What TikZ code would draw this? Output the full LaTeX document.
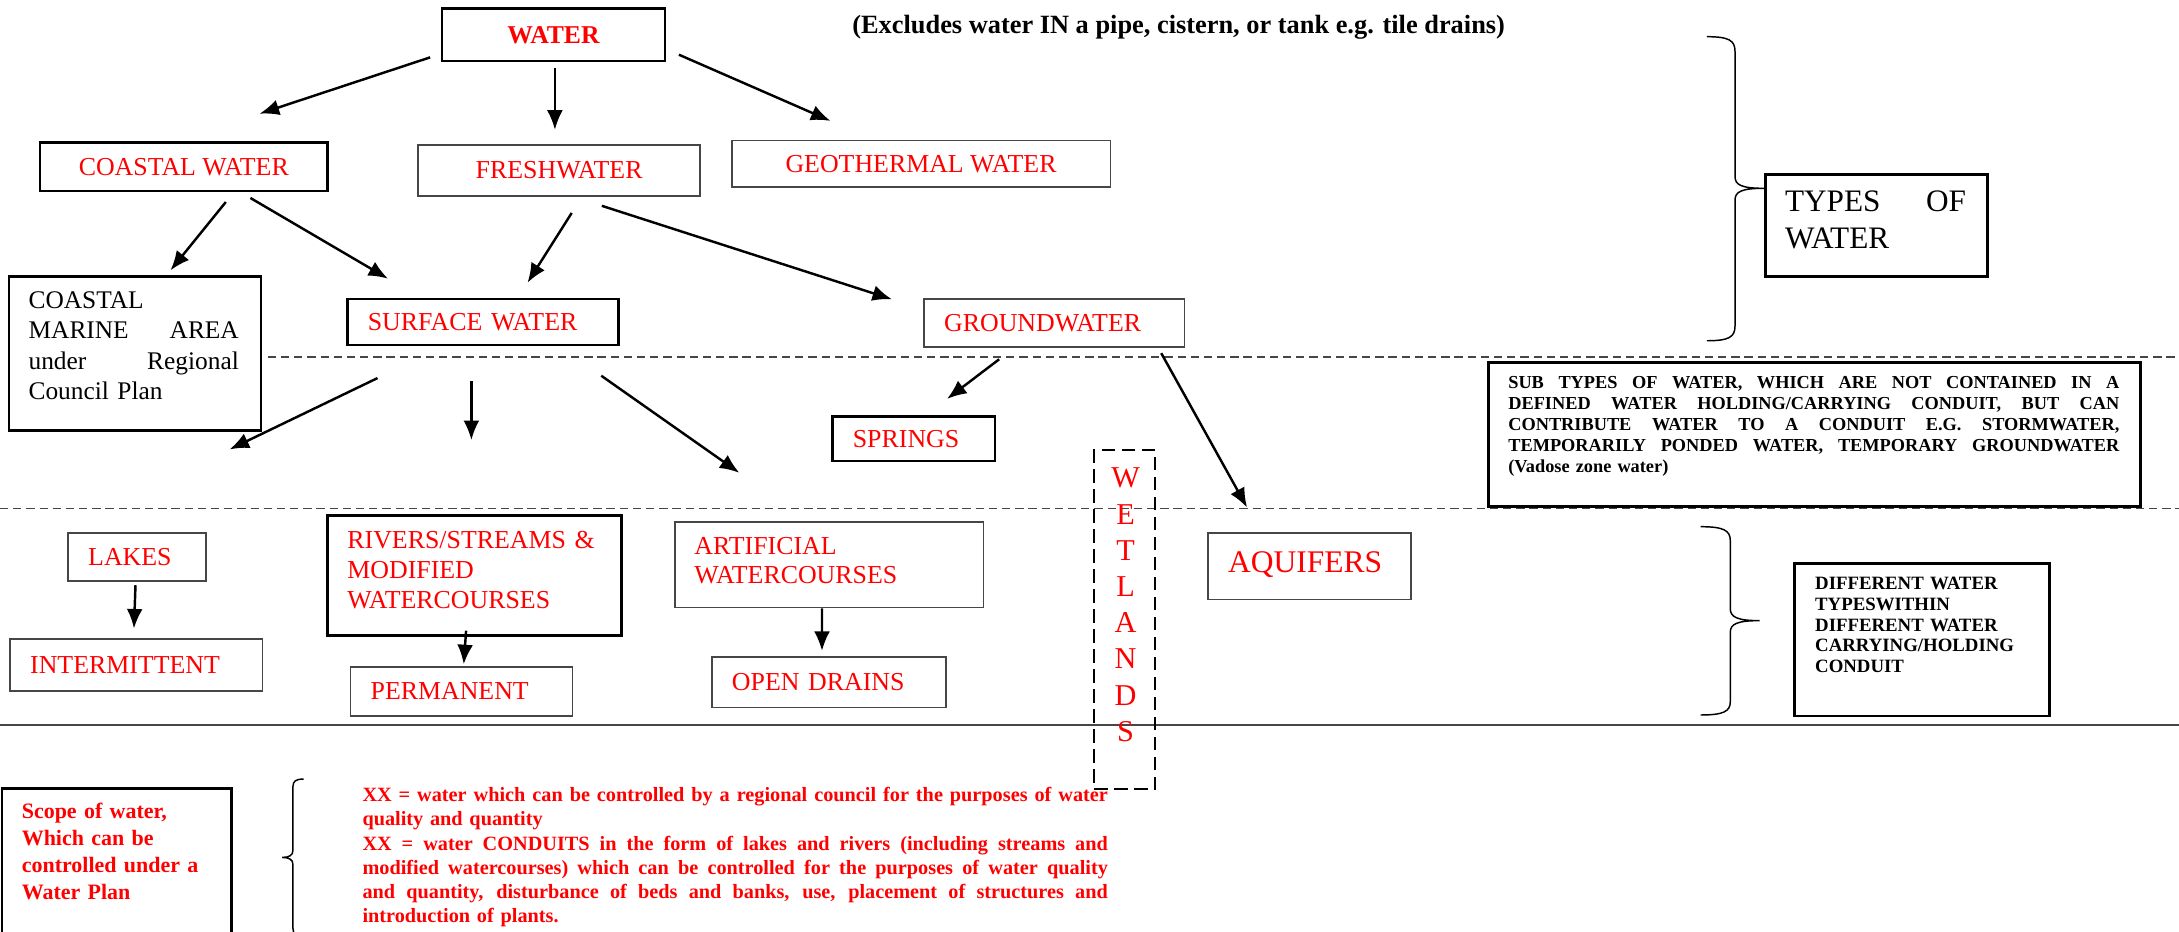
\documentclass[tikz,border=0pt]{standalone}
\usepackage{fontspec}
\setmainfont{Liberation Serif}
\usepackage{xcolor}
\usepackage{tikz}
\usetikzlibrary{arrows.meta}
\definecolor{wred}{RGB}{255,0,0}
\definecolor{linegray}{RGB}{70,70,70}
\newdimen\pxu
\pxu=0.02cm
\newcommand{\jline}[1]{\makebox[\linewidth][s]{\spaceskip=0pt\xspaceskip=0pt\relax #1}}

\begin{document}
\begin{tikzpicture}[x=0.02cm, y=-0.02cm,
	boxthick/.style={draw=black, line width=1.1pt, inner sep=0pt},
	boxthin/.style={draw=linegray, line width=0.7pt, inner sep=0pt},
	wlabel/.style={text=wred, font=\fontsize{10.6}{12.2}\selectfont},
	padleft/.style={align=left, inner xsep=14.5\pxu},
	note/.style={anchor=base west, inner sep=0pt, align=left},
	flow/.style={draw=black, line width=1pt, -{Latex[length=8pt,width=6.5pt]}},
	zoneline/.style={draw=linegray, line width=0.7pt, dash pattern=on 3.4pt off 2pt},
	bracepath/.style={draw=black, line width=0.6pt}]
	\path[use as bounding box] (0,0) rectangle (1568,670);
	\clip (0,0) rectangle (1568,670);
	\draw[zoneline] (192.7,256.7) -- (1568,256.7);
	\draw[zoneline] (0,366) -- (1568,366);
	\draw[draw=linegray, line width=0.8pt] (0,521.7) -- (1568,521.7);
	\node[boxthick, wlabel, font=\bfseries\fontsize{10.5}{12}\selectfont, minimum width=160.6\pxu, minimum height=38\pxu] (water) at (398.3,25) {WATER};
	\node[note, font=\bfseries\fontsize{10.8}{13}\selectfont] (excl) at (613,24) {(Excludes water IN a pipe, cistern, or tank e.g. tile drains)};
	\node[boxthick, wlabel, minimum width=206.9\pxu, minimum height=34.8\pxu] (coastal) at (132.25,120.1) {COASTAL WATER};
	\node[boxthin, wlabel, minimum width=202.9\pxu, minimum height=37\pxu] (fresh) at (402.35,122.6) {FRESHWATER};
	\node[boxthin, wlabel, minimum width=272.5\pxu, minimum height=33.8\pxu] (geo) at (662.75,117.9) {GEOTHERMAL WATER};
	\node[boxthick, minimum width=181.5\pxu, minimum height=110.9\pxu] (cma) at (97.15,254.55) {};
	\node[note, text width=151.3\pxu, font=\fontsize{10.4}{12.35}\selectfont] (cmatext) at ([shift={(14.8,24)}]cma.north west) {COASTAL\\ \jline{MARINE AREA}\\ \jline{under Regional}\\ Council Plan};
	\node[boxthick, wlabel, padleft, text width=165.7\pxu, minimum width=194.7\pxu, minimum height=33.1\pxu] (surface) at (347.55,231.75) {SURFACE WATER};
	\node[boxthin, wlabel, padleft, text width=158.4\pxu, minimum width=187.4\pxu, minimum height=34.3\pxu] (ground) at (758.6,232.35) {GROUNDWATER};
	\node[boxthick, wlabel, padleft, text width=87.9\pxu, minimum width=116.9\pxu, minimum height=31.9\pxu] (springs) at (657.65,315.85) {SPRINGS};
	\node[boxthick, minimum width=159.9\pxu, minimum height=73.6\pxu] (types) at (1350.25,162.3) {};
	\node[note, text width=130.2\pxu, font=\fontsize{12.8}{15.1}\selectfont] (typestext) at ([shift={(14.8,28)}]types.north west) {\jline{TYPES OF}\\ WATER};
	\node[boxthick, minimum width=469.1\pxu, minimum height=103.7\pxu] (subtypes) at (1305.75,312.85) {};
	\node[note, text width=439.7\pxu, font=\bfseries\fontsize{7.5}{8.54}\selectfont] (subtext) at ([shift={(14.8,19.7)}]subtypes.north west) {\jline{SUB TYPES OF WATER, WHICH ARE NOT CONTAINED IN A}\\ \jline{DEFINED WATER HOLDING/CARRYING CONDUIT, BUT CAN}\\ \jline{CONTRIBUTE WATER TO A CONDUIT E.G. STORMWATER,}\\ \jline{TEMPORARILY PONDED WATER, TEMPORARY GROUNDWATER}\\ (Vadose zone water)};
	\node[draw=black, line width=0.8pt, dash pattern=on 5.5pt off 2.7pt, inner sep=0pt, minimum width=43.9\pxu, minimum height=244.2\pxu] (wetlands) at (809.35,445.9) {};
	\node[anchor=base, inner sep=0pt, text width=30\pxu, align=center, text=wred, font=\fontsize{12.4}{14.82}\selectfont] (wetltext) at ([shift={(0.6,28)}]wetlands.north) {W\\E\\T\\L\\A\\N\\D\\S};
	\node[boxthin, wlabel, padleft, text width=70.1\pxu, minimum width=99.1\pxu, minimum height=34.7\pxu] (lakes) at (98.55,400.75) {LAKES};
	\node[boxthin, wlabel, padleft, text width=152.7\pxu, minimum width=181.7\pxu, minimum height=37.4\pxu] (intermittent) at (98.05,478.6) {INTERMITTENT};
	\node[boxthick, minimum width=211.5\pxu, minimum height=86.4\pxu] (rivers) at (341.45,414.3) {};
	\node[note, wlabel, text width=190\pxu] (riverstext) at ([shift={(14.9,24.7)}]rivers.north west) {RIVERS/STREAMS \&\\ MODIFIED\\ WATERCOURSES};
	\node[boxthin, wlabel, padleft, text width=130.7\pxu, minimum width=159.7\pxu, minimum height=35.5\pxu] (permanent) at (332.05,497.55) {PERMANENT};
	\node[boxthin, minimum width=222\pxu, minimum height=61.7\pxu] (artificial) at (596.7,406.25) {};
	\node[note, wlabel, text width=190\pxu] (artiftext) at ([shift={(14.3,24)}]artificial.north west) {ARTIFICIAL\\ WATERCOURSES};
	\node[boxthin, wlabel, padleft, text width=139.5\pxu, minimum width=168.5\pxu, minimum height=36.5\pxu] (opendrains) at (596.45,490.85) {OPEN DRAINS};
	\node[boxthin, wlabel, padleft, font=\fontsize{12.9}{15}\selectfont, text height=5pt, text depth=0pt, text width=117\pxu, minimum width=146\pxu, minimum height=48\pxu] (aquifers) at (942.3,407.3) {AQUIFERS};
	\node[boxthick, minimum width=183.8\pxu, minimum height=109.9\pxu] (different) at (1383.1,460.35) {};
	\node[note, text width=160\pxu, font=\bfseries\fontsize{7.7}{8.54}\selectfont] (difftext) at ([shift={(15.6,19.7)}]different.north west) {DIFFERENT WATER\\ TYPESWITHIN\\ DIFFERENT WATER\\ CARRYING/HOLDING\\ CONDUIT};
	\node[boxthick, minimum width=165.3\pxu, minimum height=132.4\pxu] (scope) at (84.15,633.8) {};
	\node[note, text width=150\pxu, text=wred, font=\bfseries\fontsize{9}{11}\selectfont] (scopetext) at ([shift={(14.8,22.5)}]scope.north west) {Scope of water,\\ Which can be\\ controlled under a\\ Water Plan};
	\node[note, text width=536.4\pxu, text=wred, font=\bfseries\fontsize{8.3}{9.9}\selectfont] (control) at (260.5,576.9) {\jline{XX = water which can be controlled by a regional council for the purposes of water}\\ quality and quantity\\ \jline{XX = water CONDUITS in the form of lakes and rivers (including streams and}\\ \jline{modified watercourses) which can be controlled for the purposes of water quality}\\ \jline{and quantity, disturbance of beds and banks, use, placement of structures and}\\ introduction of plants.};
	\coordinate (toleft) at (165.2,323.4);
	\coordinate (tomid) at (339.2,316.7);
	\coordinate (toright) at (532,340.2);
	\draw[flow] ([shift={(-7.5,-3.7)}]water.south west) -- ([shift={(54.55,-19.9)}]coastal.north);
	\draw[flow] ([shift={(1,4)}]water.south) -- ([shift={(-3.05,-10.1)}]fresh.north);
	\draw[flow] ([shift={(9,-5.6)}]water.south east) -- ([shift={(71.7,-13.4)}]geo.north west);
	\draw[flow] ([shift={(30.25,6.9)}]coastal.south) -- ([shift={(25.55,-3.6)}]cma.north);
	\draw[flow] ([shift={(47.95,4)}]coastal.south) -- ([shift={(30,-13.7)}]surface.north west);
	\draw[flow] ([shift={(9.05,11.5)}]fresh.south) -- ([shift={(32.05,-10.8)}]surface.north);
	\draw[flow] ([shift={(30.75,6.4)}]fresh.south) -- ([shift={(-22.4,0.8)}]ground.north west);
	\draw[flow] ([shift={(22.4,22.8)}]surface.south west) -- (toleft);
	\draw[flow] ([shift={(-8.35,25.2)}]surface.south) -- (tomid);
	\draw[flow] ([shift={(-13.2,21.1)}]surface.south east) -- (toright);
	\draw[flow] ([shift={(-39.6,8.4)}]ground.south) -- ([shift={(23.85,-11.9)}]springs.north);
	\draw[flow] ([shift={(-17.3,4)}]ground.south east) -- ([shift={(28.7,-17.5)}]aquifers.north west);
	\draw[flow] ([shift={(-1.05,2.4)}]lakes.south) -- ([shift={(-1.65,-7)}]intermittent.north);
	\draw[flow] ([shift={(-6.05,-4.6)}]rivers.south) -- ([shift={(1.65,-1.2)}]permanent.north);
	\draw[flow] ([shift={(-5.2,0)}]artificial.south) -- ([shift={(-4.95,-3.6)}]opendrains.north);
	\draw[bracepath] (1228.2,26.4) .. controls (1244,26.4) and (1248.5,29) .. (1248.5,37) -- (1248.5,127) .. controls (1248.5,133) and (1253,135.5) .. (1269.3,135.5) .. controls (1253,135.5) and (1248.5,138) .. (1248.5,144) -- (1248.5,234.6) .. controls (1248.5,242.6) and (1244,245.2) .. (1228.2,245.2);
	\draw[bracepath] (1223.7,379) .. controls (1240,379) and (1245.1,381.5) .. (1245.1,389) -- (1245.1,438) .. controls (1245.1,444) and (1250,446.6) .. (1266.2,446.6) .. controls (1250,446.6) and (1245.1,449) .. (1245.1,455) -- (1245.1,505) .. controls (1245.1,512) and (1240,514.5) .. (1223.7,514.5);
	\draw[bracepath] (218.5,560.6) .. controls (213,560.6) and (210.8,562) .. (210.8,566) -- (210.8,612) .. controls (210.8,615.5) and (208,617) .. (203,617) .. controls (208,617) and (210.8,618.5) .. (210.8,622) -- (210.8,668) .. controls (210.8,672) and (213,673.4) .. (218.5,673.4);
\end{tikzpicture}
\end{document}
